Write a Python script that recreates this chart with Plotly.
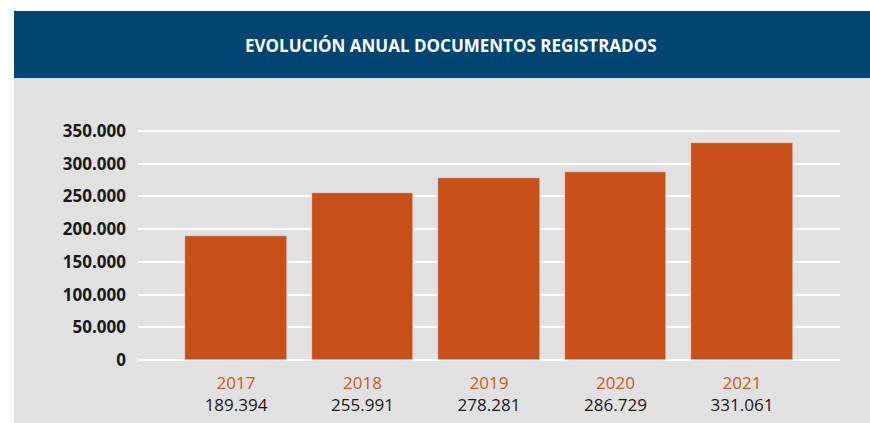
import plotly.graph_objects as go

years = ["2017", "2018", "2019", "2020", "2021"]
values = [189394, 255991, 278281, 286729, 331061]
y_ticks = [0, 50000, 100000, 150000, 200000, 250000, 300000, 350000]
title = "EVOLUCIÓN ANUAL DOCUMENTOS REGISTRADOS"

BAR = "#c84f17"
YEAR_C = "#cd5a24"
BLUE = "#004472"
GREY = "#e1e1e1"

W, H = 870, 423
L, R, T, B = 138, 30, 100, 63
pw, ph = W - L - R, H - T - B

def px(x):
    return (x - L) / pw

def py(y):
    return (H - B - y) / ph

def fmt(v):
    return f"{v:,}".replace(",", ".")

ticktext = [f"<span style='color:{YEAR_C}'>{y}</span><br>{fmt(v)}" for y, v in zip(years, values)]

fig = go.Figure(go.Bar(
    x=list(range(len(years))), y=values, marker_color=BAR, width=0.806,
    hoverinfo="skip",
))

ymax = 350000 * ph / (H - B - 131)

fig.update_layout(
    width=W, height=H,
    margin=dict(l=L, r=R, t=T, b=B),
    paper_bgcolor=GREY, plot_bgcolor=GREY,
    separators=",.",
    font=dict(family="Open Sans", color="#1a1a1a"),
    showlegend=False,
    bargap=0,
    xaxis=dict(range=[-0.775, 4.775], tickvals=list(range(len(years))), ticktext=ticktext,
               showgrid=False, zeroline=False, showline=False, ticks="", automargin=False,
               tickfont=dict(size=17, color="#1a1a1a"), ticklabelstandoff=11),
    yaxis=dict(range=[0, ymax], tickvals=y_ticks, tickformat=",d", showgrid=True,
               gridcolor="white", gridwidth=2, zeroline=True, zerolinecolor="white",
               zerolinewidth=2, showline=False, ticks="", ticklabelstandoff=11, automargin=False,
               tickfont=dict(size=17, color="#1a1a1a", weight="bold")),
    shapes=[
        dict(type="rect", xref="paper", yref="paper", x0=px(0), x1=px(W), y0=py(0), y1=py(11),
             fillcolor="white", line_width=0, layer="below"),
        dict(type="rect", xref="paper", yref="paper", x0=px(0), x1=px(14), y0=py(H), y1=py(0),
             fillcolor="white", line_width=0, layer="below"),
        dict(type="rect", xref="paper", yref="paper", x0=px(14), x1=px(W), y0=py(78), y1=py(11),
             fillcolor=BLUE, line_width=0, layer="below"),
    ],
    annotations=[
        dict(text=f"<b>{title}</b>", xref="paper", yref="paper", x=px(451), y=py(45),
             xanchor="center", yanchor="middle", showarrow=False,
             font=dict(size=17, color="white", family="Open Sans")),
    ],
)

fig.write_html("out.html", config={"displayModeBar": False},
               post_script="document.body.style.margin='0';document.body.style.overflow='hidden';")
